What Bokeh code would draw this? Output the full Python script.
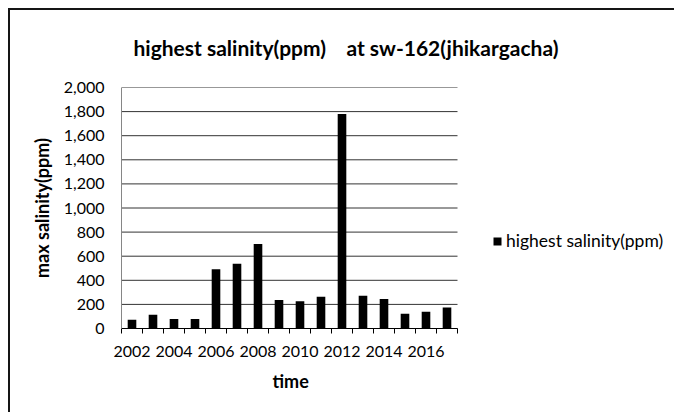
from bokeh.plotting import figure
from bokeh.models import (Range1d, FixedTicker, NumeralTickFormatter, Legend,
                          LegendItem, Title, InlineStyleSheet)
from bokeh.embed import file_html
from bokeh.resources import INLINE

# ---- data ----
years = list(range(2002, 2018))
salinity = [72, 114, 78, 78, 491, 538, 702, 236, 227, 263, 1780, 272, 244, 122, 139, 175]
series_name = "highest salinity(ppm)"
title_text = "highest salinity(ppm)\u00a0\u00a0\u00a0 at sw-162(jhikargacha)"
x_label = "time"
y_label = "max salinity(ppm)"
y_ticks = list(range(0, 2001, 200))
x_label_years = years[::2]

FONT = "Lato"

# layout (pixels)
W, H = 674, 412
PLOT_L, PLOT_R, PLOT_T, PLOT_B = 121, 457, 87, 328

x_lo = years[0] - 0.5
x_hi = years[-1] + 0.5
# frame extends to the right edge so the legend area is inside the canvas frame
x_end = x_hi + (x_hi - x_lo) * (W - PLOT_R) / (PLOT_R - PLOT_L)

p = figure(width=W, height=H, output_backend="svg", toolbar_location=None,
           x_range=Range1d(x_lo, x_end),
           y_range=Range1d(y_ticks[0], y_ticks[-1]),
           min_border_left=PLOT_L, min_border_right=0,
           min_border_top=PLOT_T, min_border_bottom=H - PLOT_B,
           background_fill_color="white", border_fill_color="white")
p.outline_line_color = None

p.title = Title(text=title_text, align="left", offset=12, standoff=56,
                text_font=FONT, text_font_size="21px", text_font_style="bold",
                text_color="black")

# horizontal gridlines limited to the category axis extent
p.xgrid.grid_line_color = None
p.ygrid.grid_line_color = None
p.segment(x0=[x_lo] * len(y_ticks), x1=[x_hi] * len(y_ticks), y0=y_ticks, y1=y_ticks,
          line_color="#333333", line_width=1)

r = p.vbar(x=years, top=salinity, width=0.41, fill_color="black", line_color=None)

# x axis
xa = p.xaxis[0]
xa.bounds = (x_lo, x_hi)
xa.ticker = FixedTicker(ticks=x_label_years,
                        minor_ticks=[y - 0.5 for y in years] + [x_hi])
xa.major_tick_out = 0
xa.major_tick_in = 0
xa.minor_tick_out = 5
xa.minor_tick_in = 0
xa.minor_tick_line_color = "black"
xa.axis_line_color = "black"
xa.major_label_text_font = FONT
xa.major_label_text_font_size = "16px"
xa.major_label_text_color = "black"
xa.major_label_standoff = 12

# x axis title, centred under the category axis (placed in the "below" panel)
p.add_layout(Title(text=x_label, align="left", offset=(PLOT_R - PLOT_L) / 2 - 17,
                   vertical_align="top", standoff=20,
                   text_font=FONT, text_font_size="18px", text_font_style="bold",
                   text_color="black"), "below")

# y axis
ya = p.yaxis[0]
ya.ticker = FixedTicker(ticks=y_ticks)
ya.formatter = NumeralTickFormatter(format="0,0")
ya.major_tick_out = 0
ya.major_tick_in = 0
ya.minor_tick_out = 0
ya.minor_tick_in = 0
ya.axis_line_color = "#868686"
ya.major_label_text_font = FONT
ya.major_label_text_font_size = "16px"
ya.major_label_text_color = "black"
ya.major_label_standoff = 17
ya.axis_label = y_label
ya.axis_label_text_font = FONT
ya.axis_label_text_font_size = "18px"
ya.axis_label_text_font_style = "bold"
ya.axis_label_text_color = "black"
ya.axis_label_standoff = 8

legend = Legend(items=[LegendItem(label=series_name, renderers=[r])],
                location=(492 - PLOT_L, 77), padding=0, margin=0,
                border_line_color=None, background_fill_alpha=0,
                glyph_width=10, glyph_height=10, label_standoff=4,
                label_text_font=FONT, label_text_font_size="17.5px",
                label_text_color="black")
p.add_layout(legend)

# chart-area border (left and top edges visible in the reference crop)
p.stylesheets = [InlineStyleSheet(css="""
:host { position: relative; }
:host::after {
  content: "";
  position: absolute;
  left: 8px; top: 8px;
  width: 666px; height: 404px;
  box-sizing: border-box;
  border-left: 2px solid #151515;
  border-top: 2px solid #151515;
  pointer-events: none;
  z-index: 100;
}
""")]

open("out.html", "w").write(file_html(p, INLINE))
